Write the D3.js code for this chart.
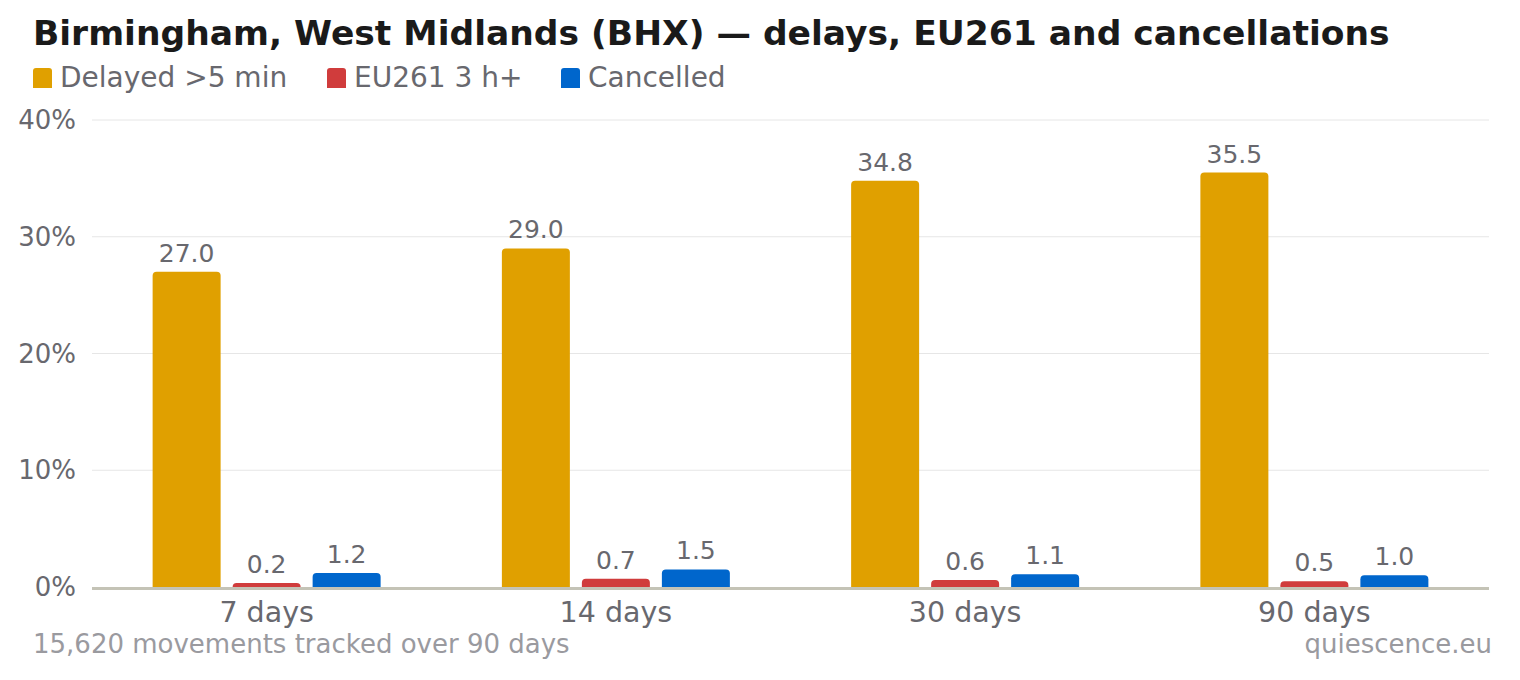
<!DOCTYPE html>
<html>
<head>
<meta charset="utf-8">
<script src="https://cdn.jsdelivr.net/npm/d3@7"></script>
<style>
  body { margin: 0; background: #fff; }
  svg text { font-family: 'DejaVu Sans', sans-serif; }
</style>
</head>
<body>
<div id="chart"></div>
<script>
const periods = ['7 days', '14 days', '30 days', '90 days']
const seriesNames = ['Delayed >5 min', 'EU261 3 h+', 'Cancelled']
const seriesColors = ['#E0A000', '#D03C3C', '#0066CC']
const delayed = [27.0, 29.0, 34.8, 35.5]
const eu261 = [0.2, 0.7, 0.6, 0.5]
const cancelled = [1.2, 1.5, 1.1, 1.0]
const yTicks = [0, 10, 20, 30, 40]

const title = 'Birmingham, West Midlands (BHX) — delays, EU261 and cancellations'
const note = '15,620 movements tracked over 90 days'
const source = 'quiescence.eu'

const W = 1520, H = 680
const margin = { top: 120, right: 31, bottom: 93, left: 92 }
const width = W - margin.left - margin.right
const height = H - margin.top - margin.bottom

const data = periods.map((p, i) => ({ period: p, values: [delayed[i], eu261[i], cancelled[i]] }))

const svg = d3.select('#chart').append('svg')
    .attr('width', W)
    .attr('height', H)

svg.append('text')
    .attr('x', 33).attr('y', 45)
    .attr('font-size', 34.5).attr('font-weight', 'bold')
    .attr('fill', '#1a1a1a')
    .text(title)

// legend
const legendX = [33, 327, 561]
const legend = svg.append('g')
seriesNames.forEach((name, i) => {
    const g = legend.append('g').attr('transform', `translate(${legendX[i]}, 68)`)
    g.append('path')
        .attr('d', 'M0,20 V3 Q0,0 3,0 H16 Q19,0 19,3 V20 Z')
        .attr('fill', seriesColors[i])
    g.append('text')
        .attr('x', 27).attr('y', 19)
        .attr('font-size', 28).attr('fill', '#68686e')
        .text(name)
})

const plot = svg.append('g').attr('transform', `translate(${margin.left}, ${margin.top})`)

const x = d3.scaleBand().domain(periods).range([0, width]).padding(0)
const xInner = d3.scaleBand().domain(d3.range(3)).range([0, 228]).paddingInner(0.15)
const y = d3.scaleLinear().domain([0, 40]).range([height, 0])

// gridlines
plot.append('g')
    .selectAll('line')
    .data(yTicks.filter(d => d > 0))
    .join('line')
    .attr('x1', 0).attr('x2', width)
    .attr('y1', d => y(d)).attr('y2', d => y(d))
    .attr('stroke', '#e6e6e6')

// y labels
plot.append('g')
    .selectAll('text')
    .data(yTicks)
    .join('text')
    .attr('x', -16)
    .attr('y', d => y(d) + 9)
    .attr('text-anchor', 'end')
    .attr('font-size', 26)
    .attr('fill', '#68686e')
    .text(d => d + '%')

function topRounded(x0, y0, w, h, r) {
    r = Math.min(r, h, w / 2)
    return `M${x0},${y0 + h} V${y0 + r} Q${x0},${y0} ${x0 + r},${y0} H${x0 + w - r} Q${x0 + w},${y0} ${x0 + w},${y0 + r} V${y0 + h} Z`
}

// small values still get a visible sliver
const barTop = d => Math.min(y(d), height - 4)

const groups = plot.selectAll('.grp')
    .data(data)
    .join('g')
    .attr('class', 'grp')
    .attr('transform', d => `translate(${x(d.period) + (x.bandwidth() - 228) / 2}, 0)`)

groups.selectAll('path')
    .data(d => d.values)
    .join('path')
    .attr('fill', (d, i) => seriesColors[i])
    .attr('d', (d, i) => topRounded(xInner(i), barTop(d), xInner.bandwidth(), height - barTop(d), 4))

groups.selectAll('text')
    .data(d => d.values)
    .join('text')
    .attr('x', (d, i) => xInner(i) + xInner.bandwidth() / 2)
    .attr('y', d => barTop(d) - 10)
    .attr('text-anchor', 'middle')
    .attr('font-size', 25)
    .attr('fill', '#68686e')
    .text(d => d.toFixed(1))

// baseline
plot.append('line')
    .attr('x1', 0).attr('x2', width)
    .attr('y1', height + 1.5).attr('y2', height + 1.5)
    .attr('stroke', '#c4c3b6').attr('stroke-width', 3)

// x labels
plot.append('g')
    .selectAll('text')
    .data(periods)
    .join('text')
    .attr('x', d => x(d) + x.bandwidth() / 2)
    .attr('y', height + 35)
    .attr('text-anchor', 'middle')
    .attr('font-size', 28.5)
    .attr('fill', '#68686e')
    .text(d => d)

svg.append('text')
    .attr('x', 33).attr('y', 653)
    .attr('font-size', 26).attr('fill', '#9a9a9f')
    .text(note)

svg.append('text')
    .attr('x', 1492).attr('y', 653)
    .attr('text-anchor', 'end')
    .attr('font-size', 26).attr('fill', '#9a9a9f')
    .text(source)
</script>
</body>
</html>
